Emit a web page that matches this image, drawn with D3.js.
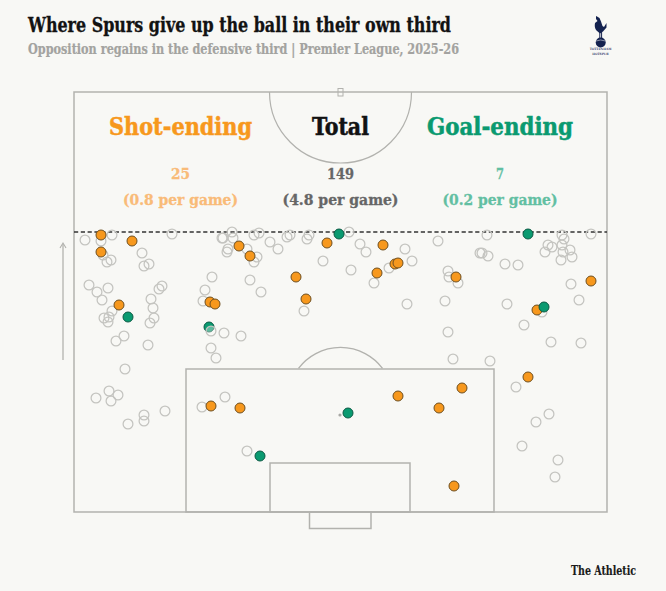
<!DOCTYPE html>
<html>
<head>
<meta charset="utf-8">
<script src="https://cdn.jsdelivr.net/npm/d3@7"></script>
<style>
html,body{margin:0;padding:0;background:#f8f8f5;}
svg{display:block;}
text{font-family:"DejaVu Serif Condensed","DejaVu Serif",serif;font-weight:700;font-stretch:condensed;}
</style>
</head>
<body>
<svg id="c" width="666" height="591"></svg>
<script>
// Pitch units: x across the pitch, y up from the goal line
const pitchWidth = 533, pitchLength = 420;
const openX = [11,27,38,98,29,33,37,68,70,75,15,23,34,28,38,30,35,34,77,79,80,76,85,88,42,50,74,51,138,131,129,176,187,150,167,137,142,148,149,158,159,154,153,173,183,180,180,185,196,213,216,204,233,235,275,286,292,331,364,249,277,315,338,300,374,375,384,230,333,371,374,379,413,406,408,414,431,444,474,478,471,488,490,488,489,496,487,498,517,497,505,433,468,450,477,507,416,22,35,44,37,70,70,54,91,128,151,173,442,475,462,448,484,481];
const openY = [272,271,277,278,257,250,252,259,246,248,227,220,224,212,201,194,195,190,213,204,194,189,223,226,171,176,167,143,235,222,211,232,220,179,176,164,154,274,274,280,274,263,260,263,255,250,277,279,270,275,277,263,273,277,280,268,260,263,271,251,242,244,251,229,241,235,229,201,208,211,180,153,277,259,259,256,248,247,267,265,260,277,273,267,260,262,252,255,278,228,212,208,200,187,170,169,151,114,121,117,111,97,91,88,101,105,115,61,125,98,90,66,52,35];
const openTopX = [137], openTopY = [181];
const shotX = [27,58,27,165,176,45,136,141,222,232,253,309,303,321,324,382,517,463,137,166,324,388,365,380,454];
const shotY = [277,271,260,266,256,207,210,208,235,213,269,267,239,248,249,235,231,202,106,104,116,124,104,26,135];
const goalX = [54,135,265,454,470,186,274];
const goalY = [195,185,278,278,205,56,99];
const headLabels = ["Shot-ending","Total","Goal-ending"];
const countLabels = ["25","149","7"];
const rateLabels = ["(0.8 per game)","(4.8 per game)","(0.2 per game)"];

const svg = d3.select("#c");
const x = d3.scaleLinear().domain([0,pitchWidth]).range([74,607]);
const y = d3.scaleLinear().domain([0,pitchLength]).range([512,92]);
const line = "#b2b2ae";
const pitch = svg.append("g").attr("fill","none").attr("stroke",line).attr("stroke-width",1.5);
const box = (x0,x1,y0,y1)=>pitch.append("rect").attr("x",x(x0)).attr("y",y(y1)).attr("width",x(x1)-x(x0)).attr("height",y(y0)-y(y1));
box(0,pitchWidth,0,pitchLength);
box(112,420,0,143);
box(196,336,0,49);
box(235.5,297,-16.5,0);
box(264,269,416,423.5).attr("stroke-width",1);
// centre circle
pitch.append("path").attr("stroke-width",1.2).attr("d",d3.arc()({innerRadius:0,outerRadius:71,startAngle:Math.PI/2,endAngle:Math.PI*1.5}).replace(/L.*Z/,"")).attr("transform",`translate(${x(266.5)},${y(420)})`);
// penalty arc
const arcR = 52.6, arcA = Math.asin(42/arcR);
pitch.append("path").attr("stroke-width",1.3).attr("d",d3.arc()({innerRadius:arcR,outerRadius:arcR,startAngle:-arcA,endAngle:arcA})).attr("transform",`translate(${x(266.5)},${y(112)})`);
svg.append("circle").attr("cx",x(266)).attr("cy",y(97)).attr("r",1.6).attr("fill","#a8a8a4");
// third line
svg.append("line").attr("x1",x(0)).attr("x2",x(pitchWidth)).attr("y1",y(280)).attr("y2",y(280)).attr("stroke","#333").attr("stroke-width",1.3).attr("stroke-dasharray","4.2 2.6");
// direction arrow
svg.append("line").attr("x1",63).attr("x2",63).attr("y1",360).attr("y2",244).attr("stroke",line).attr("stroke-width",1.3);
svg.append("path").attr("d","M60 248L63 243L66 248").attr("fill","none").attr("stroke",line).attr("stroke-width",1.1);

const dots = (xs,ys,cls,fill,stroke,r,sw)=>svg.append("g").attr("class",cls).selectAll("circle").data(xs).join("circle")
  .attr("cx",d=>x(d)).attr("cy",(d,i)=>y(ys[i])).attr("r",r).attr("fill",fill).attr("stroke",stroke).attr("stroke-width",sw);
dots(openX,openY,"open","none","#c4c4c0",4.9,1.25);
dots(shotX,shotY,"shot","#f7981d","#6e4f20",5,1);
dots(goalX,goalY,"goal","#0a9a70","#0b5a44",5,1);
dots(openTopX,openTopY,"open-top","rgba(248,248,245,0.35)","#c4c4c0",4.9,1.25);

const txt=(s,xp,yp,size,fill,len,anchor,bold)=>svg.append("text").text(s).attr("x",xp).attr("y",yp).attr("font-size",size).attr("fill",fill)
  .attr("stroke",fill).attr("stroke-width",bold||0)
  .attr("text-anchor",anchor||"middle").attr("textLength",len).attr("lengthAdjust","spacingAndGlyphs");
txt("Where Spurs give up the ball in their own third",28,32,20,"#121212",423,"start",0.3);
txt("Opposition regains in the defensive third | Premier League, 2025-26",28,54,14.5,"#a3a3a0",431,"start",0.2);
const cx=[180.5,340.5,500], headLen=[143,57,146], headCol=["#f7981d","#121212","#0a9a70"];
const countCol=["#f9bb78","#666666","#62bfa2"], countLen=[19,27,8], rateLen=[115,116,115];
headLabels.forEach((d,i)=>txt(d,cx[i],135,25,headCol[i],headLen[i],"middle",0.5));
countLabels.forEach((d,i)=>txt(d,cx[i],179,15.5,countCol[i],countLen[i],"middle",0.3));
rateLabels.forEach((d,i)=>txt(d,cx[i],205,15.5,countCol[i],rateLen[i],"middle",0.3));
txt("The Athletic",571,575,12.5,"#1a1a1a",65,"start",0.15);

// crest
const navy="#14224f", crest=svg.append("g");
crest.append("path").attr("fill",navy).attr("d","M597 16.5L596 16L596 19L597.5 21L595 23Q594 28 596.5 30.5L600 33.5L603 31.5L606.5 27.5L606.5 23L604 27L602.5 26L601 21.5L599.5 18Z");
crest.append("path").attr("stroke",navy).attr("stroke-width",1).attr("fill","none").attr("d","M599.8 32V38M601.6 32V38");
crest.append("circle").attr("cx",600.7).attr("cy",42.5).attr("r",5).attr("fill",navy);
crest.append("path").attr("stroke","#d8dbe6").attr("stroke-width",0.6).attr("fill","none").attr("d","M596 41Q600.7 39 605.4 41");
crest.append("text").text("TOTTENHAM").attr("x",600.5).attr("y",50).attr("font-size",3.2).attr("text-anchor","middle").attr("fill","#3a4670");
crest.append("text").text("HOTSPUR").attr("x",600.5).attr("y",54.5).attr("font-size",3.2).attr("text-anchor","middle").attr("fill","#3a4670");
</script>
</body>
</html>
